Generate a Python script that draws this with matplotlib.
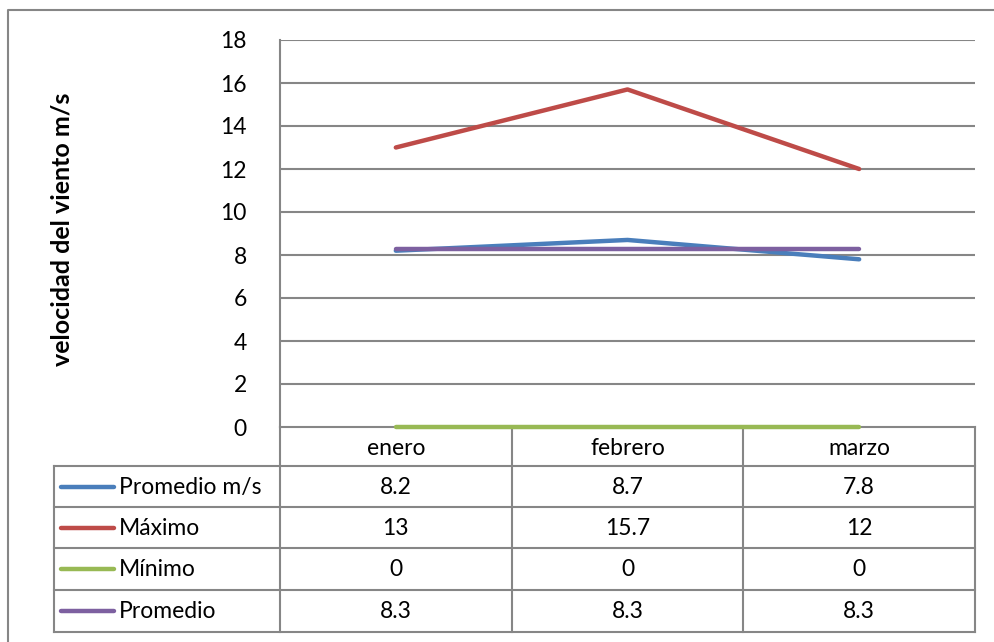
import matplotlib.pyplot as plt

months = ['enero', 'febrero', 'marzo']
series_names = ['Promedio m/s', 'Máximo', 'Mínimo', 'Promedio']
promedio_ms = [8.2, 8.7, 7.8]
maximo = [13, 15.7, 12]
minimo = [0, 0, 0]
promedio = [8.3, 8.3, 8.3]
series_values = [promedio_ms, maximo, minimo, promedio]
series_labels = [['8.2', '8.7', '7.8'], ['13', '15.7', '12'], ['0', '0', '0'], ['8.3', '8.3', '8.3']]
colors = ['#4A7EBB', '#BE4B48', '#98B954', '#7D60A0']
y_ticks = [0, 2, 4, 6, 8, 10, 12, 14, 16, 18]

plt.rcParams['font.family'] = ['Lato', 'DejaVu Sans']
W, H = 995, 642
grey = '#868686'
fs = 16.5

fig = plt.figure(figsize=(W / 100, H / 100), dpi=100)

# pixel positions of the plot area
px_left, px_right, px_top, px_bottom = 280, 975, 40, 427
ax = fig.add_axes([px_left / W, 1 - px_bottom / H,
                   (px_right - px_left) / W, (px_bottom - px_top) / H])

x = range(len(months))
for vals, c, name in zip(series_values, colors, series_names):
    ax.plot(x, vals, color=c, lw=3.2, solid_capstyle='round', label=name,
            zorder=3, clip_on=False)

ax.set_xlim(-0.5, len(months) - 0.5)
ax.set_ylim(0, 18)
ax.set_yticks(y_ticks)
ax.set_xticks([])
ax.yaxis.grid(True, color=grey, lw=1.5)
ax.set_axisbelow(True)
for s in ['top', 'right', 'bottom']:
    ax.spines[s].set_visible(False)
ax.spines['left'].set_color(grey)
ax.spines['left'].set_linewidth(1.5)
ax.tick_params(axis='y', length=0, pad=24, labelsize=fs)
ax.set_ylabel('velocidad del viento m/s', fontsize=18, fontweight='bold', labelpad=0)
ax.yaxis.set_label_coords(-0.297, 0.51)

# overlay in pixel coordinates for the data table and the outer frame
ov = fig.add_axes([0, 0, 1, 1])
ov.set_xlim(0, W)
ov.set_ylim(H, 0)
ov.axis('off')
ov.set_zorder(-1)

# outer chart frame (only left/top edges visible in the crop)
ov.plot([8, 8, W + 5], [H + 5, 10, 10], color=grey, lw=1.5)

tbl_left = 54
col_edges = [px_left + (px_right - px_left) * i / len(months) for i in range(len(months) + 1)]
row_edges = [427, 466, 507, 548, 590, 632]

# vertical lines
ov.plot([tbl_left, tbl_left], [row_edges[1], row_edges[-1]], color=grey, lw=1.5)
for cx in col_edges:
    ov.plot([cx, cx], [row_edges[0], row_edges[-1]], color=grey, lw=1.5)
# horizontal lines
for j, ry in enumerate(row_edges):
    x0 = tbl_left if j >= 1 else px_left
    ov.plot([x0, px_right], [ry, ry], color=grey, lw=1.5)

centers = [(col_edges[i] + col_edges[i + 1]) / 2 for i in range(len(months))]
for cx, m in zip(centers, months):
    ov.text(cx, (row_edges[0] + row_edges[1]) / 2 + 2, m, ha='center', va='center', fontsize=fs)

for r, (name, labels, c) in enumerate(zip(series_names, series_labels, colors)):
    cy = (row_edges[r + 1] + row_edges[r + 2]) / 2
    ov.plot([61, 114], [cy, cy], color=c, lw=3.2, solid_capstyle='round')
    ov.text(119, cy + 1, name, ha='left', va='center', fontsize=fs)
    for cx, lab in zip(centers, labels):
        ov.text(cx, cy + 1, lab, ha='center', va='center', fontsize=fs)

fig.savefig('out.png', dpi=100)
